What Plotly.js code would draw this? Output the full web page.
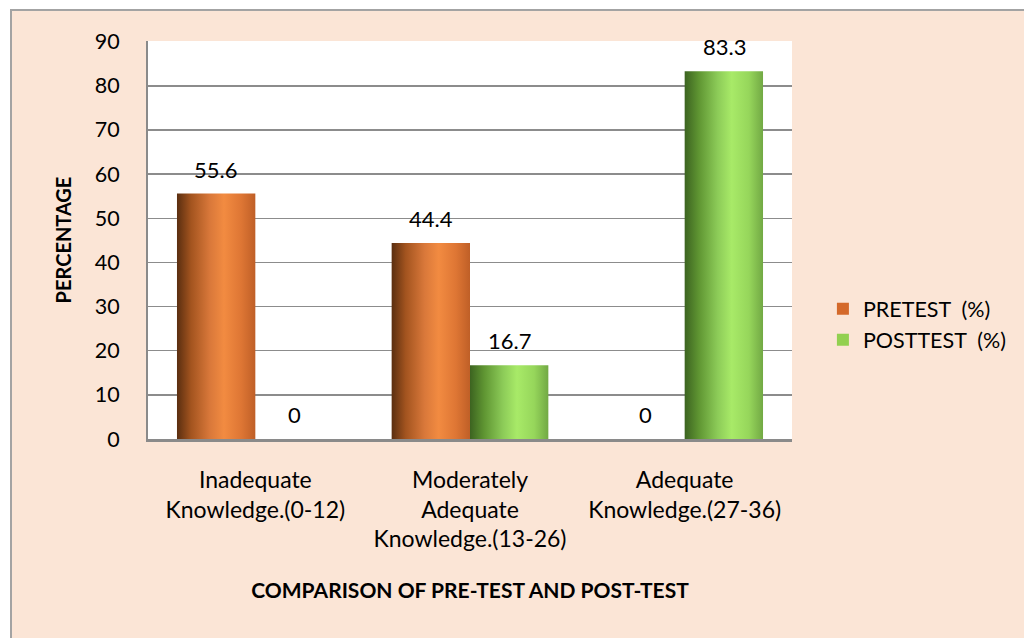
<!DOCTYPE html>
<html>
<head>
<meta charset="utf-8">
<script src="https://cdn.plot.ly/plotly-3.0.1.min.js"></script>
<style>
  html, body { margin: 0; padding: 0; background: #ffffff; }
  #frame { position: absolute; left: 10px; top: 9px; width: 1030px; height: 650px;
           background: #fbe5d6; border-left: 2px solid #a3a3a3; border-top: 2px solid #a3a3a3; }
  #chart { position: absolute; left: 0; top: 0; width: 1024px; height: 638px; }
</style>
</head>
<body>
<div id="frame"></div>
<div id="chart"></div>
<script>
const categories = [
  'Inadequate<br>Knowledge.(0-12)',
  'Moderately<br>Adequate<br>Knowledge.(13-26)',
  'Adequate<br>Knowledge.(27-36)'
];
const seriesNames = ['PRETEST\u00A0 (%)', 'POSTTEST\u00A0 (%)'];
const pretest = [55.6, 44.4, 0];
const posttest = [0, 16.7, 83.3];
const yTicks = [0, 10, 20, 30, 40, 50, 60, 70, 80, 90];

const allSeries = [pretest, posttest];
const baseColors = ['#d4692a', '#92d050'];
const gradients = [
  [['0', '#5a2e10'], ['0.18', '#a3541f'], ['0.42', '#d9783a'], ['0.6', '#f28b41'], ['0.82', '#de7634'], ['1', '#bf5f27']],
  [['0', '#3c6320'], ['0.18', '#5f9532'], ['0.42', '#8ccb58'], ['0.6', '#a8ea68'], ['0.82', '#96d65b'], ['1', '#72a944']]
];

const traces = allSeries.map((vals, i) => ({
  type: 'bar',
  name: seriesNames[i],
  x: categories,
  y: vals,
  legendgroup: 'g' + i,
  marker: { color: baseColors[i], line: { width: 0 } },
  hoverinfo: 'none'
}));

const annotations = [];
allSeries.forEach((vals, i) => {
  vals.forEach((v, j) => {
    annotations.push({
      x: categories[j], y: v, xref: 'x', yref: 'y',
      xshift: (i === 0 ? -1 : 1) * 39.5, yshift: 9,
      yanchor: 'bottom', xanchor: 'center',
      text: String(v), showarrow: false,
      font: { family: 'Lato, sans-serif', size: 22, color: '#000000' }
    });
  });
});

const layout = {
  width: 1024, height: 638,
  margin: { l: 148, r: 227, t: 41, b: 199, pad: 0 },
  paper_bgcolor: 'rgba(0,0,0,0)',
  plot_bgcolor: '#ffffff',
  barmode: 'group',
  bargap: 0.27,
  bargroupgap: 0,
  font: { family: 'Lato, sans-serif', color: '#000000' },
  showlegend: true,
  legend: {
    x: 1.048, xanchor: 'left', y: 0.288, yanchor: 'middle',
    bgcolor: 'rgba(0,0,0,0)', font: { size: 21.5, color: '#000000' },
    tracegroupgap: 15, traceorder: 'normal'
  },
  xaxis: {
    type: 'category',
    showline: true, linecolor: '#8a8a8a', linewidth: 3,
    showgrid: false, ticks: '', zeroline: false,
    tickfont: { size: 23, color: '#000000' },
    ticklabelstandoff: 18,
    title: { text: 'COMPARISON OF PRE-TEST AND POST-TEST',
             font: { size: 21, color: '#000000', family: 'Lato, sans-serif', weight: 'bold' },
             standoff: 32 },
    automargin: false
  },
  yaxis: {
    range: [0, 90.15], tickvals: yTicks, ticktext: yTicks.map(String),
    showline: true, linecolor: '#8a8a8a', linewidth: 2,
    showgrid: true, gridcolor: '#8c8c8c', gridwidth: 1.5,
    zeroline: false, ticks: '',
    tickfont: { size: 21.5, color: '#000000' },
    ticklabelstandoff: 22,
    title: { text: 'PERCENTAGE',
             font: { size: 20, color: '#000000', family: 'Lato, sans-serif', weight: 'bold' },
             standoff: 18 },
    automargin: false
  },
  annotations: annotations
};

Plotly.newPlot('chart', traces, layout, { staticPlot: true, displayModeBar: false }).then(gd => {
  const svg = gd.querySelector('.main-svg');
  const NS = 'http://www.w3.org/2000/svg';
  let defs = svg.querySelector('defs');
  if (!defs) { defs = document.createElementNS(NS, 'defs'); svg.insertBefore(defs, svg.firstChild); }
  gradients.forEach((stops, i) => {
    const lg = document.createElementNS(NS, 'linearGradient');
    lg.setAttribute('id', 'barGrad' + i);
    lg.setAttribute('x1', '0'); lg.setAttribute('x2', '1');
    lg.setAttribute('y1', '0'); lg.setAttribute('y2', '0');
    stops.forEach(([off, col]) => {
      const s = document.createElementNS(NS, 'stop');
      s.setAttribute('offset', off); s.setAttribute('stop-color', col);
      lg.appendChild(s);
    });
    defs.appendChild(lg);
  });
  const barTraces = gd.querySelectorAll('.barlayer .trace');
  barTraces.forEach((t, i) => {
    t.querySelectorAll('.point path').forEach(p => {
      p.style.fill = 'url(#barGrad' + i + ')';
    });
  });
});
</script>
</body>
</html>
